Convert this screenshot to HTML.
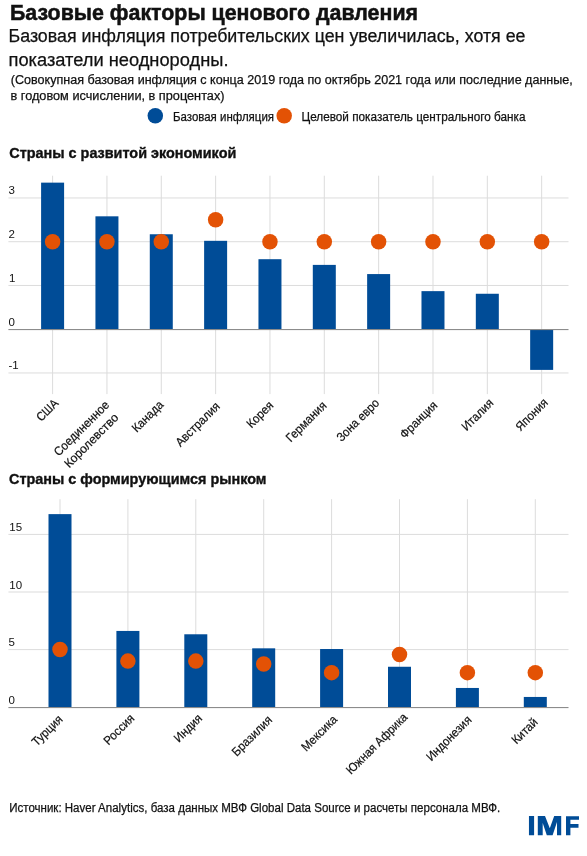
<!DOCTYPE html>
<html><head><meta charset="utf-8"><style>
html,body{margin:0;padding:0;background:#fff;}
svg{display:block;will-change:transform;font-family:"Liberation Sans", sans-serif;}
</style></head><body>
<svg width="587" height="856" viewBox="0 0 587 856">
<rect width="587" height="856" fill="#fff"/>
<text x="10" y="20.1" font-size="21.6" font-weight="bold" text-anchor="start" fill="#111111" textLength="408" lengthAdjust="spacingAndGlyphs" stroke="#111111" stroke-width="0.5">Базовые факторы ценового давления</text>
<text x="8.5" y="42.4" font-size="18" font-weight="normal" text-anchor="start" fill="#111111" textLength="517" lengthAdjust="spacingAndGlyphs" stroke="#111111" stroke-width="0.25">Базовая инфляция потребительских цен увеличилась, хотя ее</text>
<text x="8.5" y="66" font-size="18" font-weight="normal" text-anchor="start" fill="#111111" textLength="220" lengthAdjust="spacingAndGlyphs" stroke="#111111" stroke-width="0.25">показатели неоднородны.</text>
<text x="10.8" y="84" font-size="12.5" font-weight="normal" text-anchor="start" fill="#111111" textLength="562" lengthAdjust="spacingAndGlyphs" stroke="#111111" stroke-width="0.25">(Совокупная базовая инфляция с конца 2019 года по октябрь 2021 года или последние данные,</text>
<text x="10.5" y="99.8" font-size="12.5" font-weight="normal" text-anchor="start" fill="#111111" textLength="214" lengthAdjust="spacingAndGlyphs" stroke="#111111" stroke-width="0.25">в годовом исчислении, в процентах)</text>
<circle cx="155.3" cy="115.7" r="7.75" fill="#004c97"/>
<text x="173" y="120.5" font-size="12.3" font-weight="normal" text-anchor="start" fill="#111111" textLength="101" lengthAdjust="spacingAndGlyphs" stroke="#111111" stroke-width="0.25">Базовая инфляция</text>
<circle cx="284.2" cy="115.7" r="7.75" fill="#e35205"/>
<text x="301.5" y="120.5" font-size="12.3" font-weight="normal" text-anchor="start" fill="#111111" textLength="224" lengthAdjust="spacingAndGlyphs" stroke="#111111" stroke-width="0.25">Целевой показатель центрального банка</text>
<text x="9.3" y="157.6" font-size="14.5" font-weight="bold" text-anchor="start" fill="#111111" textLength="227" lengthAdjust="spacingAndGlyphs" stroke="#111111" stroke-width="0.35">Страны с развитой экономикой</text>
<rect x="8.4" y="197.45" width="560.1" height="1" fill="#dcdcdc"/>
<rect x="8.4" y="241.20" width="560.1" height="1" fill="#dcdcdc"/>
<rect x="8.4" y="284.95" width="560.1" height="1" fill="#dcdcdc"/>
<rect x="8.4" y="372.45" width="560.1" height="1" fill="#dcdcdc"/>
<rect x="52.10" y="175.7" width="1" height="218.4" fill="#dcdcdc"/>
<rect x="106.44" y="175.7" width="1" height="218.4" fill="#dcdcdc"/>
<rect x="160.78" y="175.7" width="1" height="218.4" fill="#dcdcdc"/>
<rect x="215.12" y="175.7" width="1" height="218.4" fill="#dcdcdc"/>
<rect x="269.46" y="175.7" width="1" height="218.4" fill="#dcdcdc"/>
<rect x="323.80" y="175.7" width="1" height="218.4" fill="#dcdcdc"/>
<rect x="378.14" y="175.7" width="1" height="218.4" fill="#dcdcdc"/>
<rect x="432.48" y="175.7" width="1" height="218.4" fill="#dcdcdc"/>
<rect x="486.82" y="175.7" width="1" height="218.4" fill="#dcdcdc"/>
<rect x="541.16" y="175.7" width="1" height="218.4" fill="#dcdcdc"/>
<rect x="41.10" y="182.64" width="23" height="146.56" fill="#004c97"/>
<rect x="95.44" y="216.32" width="23" height="112.88" fill="#004c97"/>
<rect x="149.78" y="234.26" width="23" height="94.94" fill="#004c97"/>
<rect x="204.12" y="240.82" width="23" height="88.38" fill="#004c97"/>
<rect x="258.46" y="259.20" width="23" height="70.00" fill="#004c97"/>
<rect x="312.80" y="264.89" width="23" height="64.31" fill="#004c97"/>
<rect x="367.14" y="274.07" width="23" height="55.12" fill="#004c97"/>
<rect x="421.48" y="291.14" width="23" height="38.06" fill="#004c97"/>
<rect x="475.82" y="293.76" width="23" height="35.44" fill="#004c97"/>
<rect x="530.16" y="329.20" width="23" height="40.69" fill="#004c97"/>
<rect x="8.4" y="329.00" width="560.1" height="1.1" fill="#8c8c8c"/>
<circle cx="52.60" cy="241.70" r="7.75" fill="#e35205"/>
<circle cx="106.94" cy="241.70" r="7.75" fill="#e35205"/>
<circle cx="161.28" cy="241.70" r="7.75" fill="#e35205"/>
<circle cx="215.62" cy="219.82" r="7.75" fill="#e35205"/>
<circle cx="269.96" cy="241.70" r="7.75" fill="#e35205"/>
<circle cx="324.30" cy="241.70" r="7.75" fill="#e35205"/>
<circle cx="378.64" cy="241.70" r="7.75" fill="#e35205"/>
<circle cx="432.98" cy="241.70" r="7.75" fill="#e35205"/>
<circle cx="487.32" cy="241.70" r="7.75" fill="#e35205"/>
<circle cx="541.66" cy="241.70" r="7.75" fill="#e35205"/>
<text x="8.5" y="194.45" font-size="11.5" font-weight="normal" text-anchor="start" fill="#111111" stroke="none">3</text>
<text x="8.5" y="238.20" font-size="11.5" font-weight="normal" text-anchor="start" fill="#111111" stroke="none">2</text>
<text x="9.1" y="281.95" font-size="11.5" font-weight="normal" text-anchor="start" fill="#111111" stroke="none">1</text>
<text x="8.5" y="325.70" font-size="11.5" font-weight="normal" text-anchor="start" fill="#111111" stroke="none">0</text>
<text x="8.5" y="369.45" font-size="11.5" font-weight="normal" text-anchor="start" fill="#111111" stroke="none">-1</text>
<text x="59.10" y="404.20" font-size="12.3" text-anchor="end" fill="#111111" stroke="#111111" stroke-width="0.2" textLength="25.19" lengthAdjust="spacingAndGlyphs" transform="rotate(-45 59.10 404.20)">США</text>
<text x="109.94" y="405.70" font-size="12.3" text-anchor="end" fill="#111111" stroke="#111111" stroke-width="0.2" textLength="72.22" lengthAdjust="spacingAndGlyphs" transform="rotate(-45 109.94 405.70)">Соединенное</text>
<text x="119.24" y="418.40" font-size="12.3" text-anchor="end" fill="#111111" stroke="#111111" stroke-width="0.2" textLength="70.84" lengthAdjust="spacingAndGlyphs" transform="rotate(-45 119.24 418.40)">Королевство</text>
<text x="164.28" y="405.40" font-size="12.3" text-anchor="end" fill="#111111" stroke="#111111" stroke-width="0.2" textLength="38.95" lengthAdjust="spacingAndGlyphs" transform="rotate(-45 164.28 405.40)">Канада</text>
<text x="220.62" y="407.00" font-size="12.3" text-anchor="end" fill="#111111" stroke="#111111" stroke-width="0.2" textLength="56.82" lengthAdjust="spacingAndGlyphs" transform="rotate(-45 220.62 407.00)">Австралия</text>
<text x="274.26" y="406.00" font-size="12.3" text-anchor="end" fill="#111111" stroke="#111111" stroke-width="0.2" textLength="32.11" lengthAdjust="spacingAndGlyphs" transform="rotate(-45 274.26 406.00)">Корея</text>
<text x="327.30" y="406.40" font-size="12.3" text-anchor="end" fill="#111111" stroke="#111111" stroke-width="0.2" textLength="51.55" lengthAdjust="spacingAndGlyphs" transform="rotate(-45 327.30 406.40)">Германия</text>
<text x="380.04" y="403.70" font-size="12.3" text-anchor="end" fill="#111111" stroke="#111111" stroke-width="0.2" textLength="54.58" lengthAdjust="spacingAndGlyphs" transform="rotate(-45 380.04 403.70)">Зона евро</text>
<text x="438.18" y="406.00" font-size="12.3" text-anchor="end" fill="#111111" stroke="#111111" stroke-width="0.2" textLength="47.12" lengthAdjust="spacingAndGlyphs" transform="rotate(-45 438.18 406.00)">Франция</text>
<text x="494.12" y="403.70" font-size="12.3" text-anchor="end" fill="#111111" stroke="#111111" stroke-width="0.2" textLength="39.16" lengthAdjust="spacingAndGlyphs" transform="rotate(-45 494.12 403.70)">Италия</text>
<text x="548.66" y="403.40" font-size="12.3" text-anchor="end" fill="#111111" stroke="#111111" stroke-width="0.2" textLength="39.93" lengthAdjust="spacingAndGlyphs" transform="rotate(-45 548.66 403.40)">Япония</text>
<text x="9" y="483.9" font-size="14.5" font-weight="bold" text-anchor="start" fill="#111111" textLength="257.5" lengthAdjust="spacingAndGlyphs" stroke="#111111" stroke-width="0.35">Страны с формирующимся рынком</text>
<rect x="8.4" y="533.90" width="560.1" height="1" fill="#dcdcdc"/>
<rect x="8.4" y="591.50" width="560.1" height="1" fill="#dcdcdc"/>
<rect x="8.4" y="649.10" width="560.1" height="1" fill="#dcdcdc"/>
<rect x="59.50" y="499.2" width="1" height="208.0" fill="#dcdcdc"/>
<rect x="127.40" y="499.2" width="1" height="208.0" fill="#dcdcdc"/>
<rect x="195.30" y="499.2" width="1" height="208.0" fill="#dcdcdc"/>
<rect x="263.20" y="499.2" width="1" height="208.0" fill="#dcdcdc"/>
<rect x="331.10" y="499.2" width="1" height="208.0" fill="#dcdcdc"/>
<rect x="399.00" y="499.2" width="1" height="208.0" fill="#dcdcdc"/>
<rect x="466.90" y="499.2" width="1" height="208.0" fill="#dcdcdc"/>
<rect x="534.80" y="499.2" width="1" height="208.0" fill="#dcdcdc"/>
<rect x="48.50" y="514.12" width="23" height="193.08" fill="#004c97"/>
<rect x="116.40" y="630.94" width="23" height="76.26" fill="#004c97"/>
<rect x="184.30" y="634.28" width="23" height="72.92" fill="#004c97"/>
<rect x="252.20" y="648.33" width="23" height="58.87" fill="#004c97"/>
<rect x="320.10" y="649.02" width="23" height="58.18" fill="#004c97"/>
<rect x="388.00" y="666.76" width="23" height="40.44" fill="#004c97"/>
<rect x="455.90" y="687.96" width="23" height="19.24" fill="#004c97"/>
<rect x="523.80" y="696.95" width="23" height="10.25" fill="#004c97"/>
<rect x="8.4" y="707.00" width="560.1" height="1.1" fill="#8c8c8c"/>
<circle cx="60.00" cy="649.60" r="7.75" fill="#e35205"/>
<circle cx="127.90" cy="661.12" r="7.75" fill="#e35205"/>
<circle cx="195.80" cy="661.12" r="7.75" fill="#e35205"/>
<circle cx="263.70" cy="664.00" r="7.75" fill="#e35205"/>
<circle cx="331.60" cy="672.64" r="7.75" fill="#e35205"/>
<circle cx="399.50" cy="654.55" r="7.75" fill="#e35205"/>
<circle cx="467.40" cy="672.64" r="7.75" fill="#e35205"/>
<circle cx="535.30" cy="672.64" r="7.75" fill="#e35205"/>
<text x="9.3" y="530.90" font-size="11.5" font-weight="normal" text-anchor="start" fill="#111111" stroke="none">15</text>
<text x="9.3" y="588.50" font-size="11.5" font-weight="normal" text-anchor="start" fill="#111111" stroke="none">10</text>
<text x="8.5" y="646.10" font-size="11.5" font-weight="normal" text-anchor="start" fill="#111111" stroke="none">5</text>
<text x="8.5" y="703.70" font-size="11.5" font-weight="normal" text-anchor="start" fill="#111111" stroke="none">0</text>
<text x="63.40" y="720.10" font-size="12.3" text-anchor="end" fill="#111111" stroke="#111111" stroke-width="0.2" textLength="37.63" lengthAdjust="spacingAndGlyphs" transform="rotate(-45 63.40 720.10)">Турция</text>
<text x="135.20" y="719.10" font-size="12.3" text-anchor="end" fill="#111111" stroke="#111111" stroke-width="0.2" textLength="37.71" lengthAdjust="spacingAndGlyphs" transform="rotate(-45 135.20 719.10)">Россия</text>
<text x="202.90" y="719.00" font-size="12.3" text-anchor="end" fill="#111111" stroke="#111111" stroke-width="0.2" textLength="33.98" lengthAdjust="spacingAndGlyphs" transform="rotate(-45 202.90 719.00)">Индия</text>
<text x="273.00" y="720.70" font-size="12.3" text-anchor="end" fill="#111111" stroke="#111111" stroke-width="0.2" textLength="51.27" lengthAdjust="spacingAndGlyphs" transform="rotate(-45 273.00 720.70)">Бразилия</text>
<text x="338.10" y="720.10" font-size="12.3" text-anchor="end" fill="#111111" stroke="#111111" stroke-width="0.2" textLength="45.12" lengthAdjust="spacingAndGlyphs" transform="rotate(-45 338.10 720.10)">Мексика</text>
<text x="408.20" y="718.00" font-size="12.3" text-anchor="end" fill="#111111" stroke="#111111" stroke-width="0.2" textLength="80.74" lengthAdjust="spacingAndGlyphs" transform="rotate(-45 408.20 718.00)">Южная Африка</text>
<text x="472.30" y="720.70" font-size="12.3" text-anchor="end" fill="#111111" stroke="#111111" stroke-width="0.2" textLength="58.14" lengthAdjust="spacingAndGlyphs" transform="rotate(-45 472.30 720.70)">Индонезия</text>
<text x="538.60" y="722.90" font-size="12.3" text-anchor="end" fill="#111111" stroke="#111111" stroke-width="0.2" textLength="31.08" lengthAdjust="spacingAndGlyphs" transform="rotate(-45 538.60 722.90)">Китай</text>
<text x="9.2" y="812.1" font-size="12.5" font-weight="normal" text-anchor="start" fill="#111111" textLength="491" lengthAdjust="spacingAndGlyphs" stroke="#111111" stroke-width="0.25">Источник: Haver Analytics, база данных МВФ Global Data Source и расчеты персонала МВФ.</text>
<path fill="#004c97" d="M528.95,816 H534.1 V835.2 H528.95 Z M537.8,816 H545 L549.8,828.3 L554.2,816 H561.2 V835.2 H557 V822 L552.6,835.2 H546.8 L542.7,823 V835.2 H537.8 Z M566,816.2 H579 V819.8 H570.4 V824.1 H578.5 V827.7 H570.4 V835.2 H566 Z"/>
</svg></body></html>
